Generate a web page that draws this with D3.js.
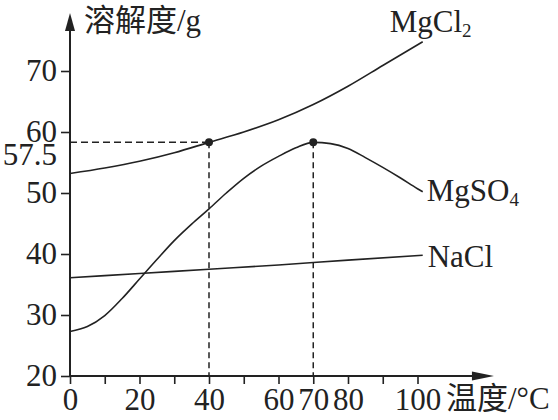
<!DOCTYPE html>
<html>
<head>
<meta charset="utf-8">
<script src="https://cdn.jsdelivr.net/npm/d3@7"></script>
<style>
  html, body { margin: 0; padding: 0; background: #fff; }
  svg { display: block; }
  text { font-family: "Liberation Serif", "Times New Roman", "Noto Sans CJK SC", serif; fill: #222; }
</style>
</head>
<body>
<svg id="chart" width="558" height="420"></svg>
<script>
// ---- data ----
const mgcl2Temps  = [0, 10, 20, 30, 40, 50, 60, 70, 80, 90, 101.5];
const mgcl2Values = [53.2, 54.1, 55.2, 56.6, 58.3, 60.0, 62.0, 64.5, 67.5, 70.9, 74.8];

const mgso4Temps  = [0, 5, 10, 15, 20, 25, 30, 35, 40, 45, 50, 55, 60, 65, 70, 75, 80, 85, 90, 95, 100, 101.5];
const mgso4Values = [27.3, 28.1, 29.9, 32.7, 35.9, 39.1, 42.2, 44.9, 47.4, 50.0, 52.4, 54.4, 56.0, 57.4, 58.3, 58.1, 57.3, 55.8, 54.2, 52.5, 50.7, 50.2];

const naclTemps   = [0, 20, 40, 60, 80, 101.5];
const naclValues  = [36.1, 36.8, 37.5, 38.2, 39.0, 39.8];

const seriesNames = ["MgCl", "MgSO", "NaCl"];
const seriesSubs  = ["2", "4", ""];

const xTicks      = [0, 10, 20, 30, 40, 50, 60, 70, 80, 90, 100];
const xTickLabels = [0, 20, 40, 60, 70, 80, 100];
const yTicks      = [20, 30, 40, 50, 60, 70];
const markTemps   = [40, 70];          // highlighted points
const markValue   = 58.3;              // level of the dashed guide (as drawn)
const markLabel   = "57.5";            // its printed label

const yTitle = "溶解度/g";
const xTitle = "温度/°C";

// ---- layout ----
const svg = d3.select("#chart");
const x = d3.scaleLinear().domain([0, 100]).range([70, 417.5]);
const y = d3.scaleLinear().domain([20, 70]).range([376, 71]);
const xAxisEnd = 122;   // temperature where the x arrow tip sits
const yAxisEnd = 79.5;  // value where the y arrow tip sits
const ink = "#222";

// dashed guides
const g = svg.append("g");
g.append("line")
  .attr("x1", x(0)).attr("x2", x(markTemps[0]))
  .attr("y1", y(markValue)).attr("y2", y(markValue))
  .attr("stroke", ink).attr("stroke-width", 1.5).attr("stroke-dasharray", "7,4");
g.selectAll("line.v").data(markTemps).join("line")
  .attr("class", "v")
  .attr("x1", d => x(d)).attr("x2", d => x(d))
  .attr("y1", y(markValue)).attr("y2", y(20))
  .attr("stroke", ink).attr("stroke-width", 1.5).attr("stroke-dasharray", "6,4");

// axes
const xAxis = d3.axisBottom(x).tickValues(xTicks).tickSize(8).tickSizeOuter(0).tickPadding(4)
  .tickFormat(d => xTickLabels.includes(d) ? String(d) : "");
const xg = svg.append("g").attr("transform", `translate(0,${y(20)})`).call(xAxis);
xg.select(".domain").remove();
xg.selectAll(".tick line").attr("stroke", ink).attr("stroke-width", 1.6);
xg.selectAll(".tick text").attr("font-size", 31).attr("fill", ink)
  .style("font-family", '"Liberation Serif", serif');

const yAxis = d3.axisLeft(y).tickValues(yTicks).tickSize(9).tickSizeOuter(0).tickPadding(4)
  .tickFormat(d => String(d));
const yg = svg.append("g").attr("transform", `translate(${x(0)},0)`).call(yAxis);
yg.select(".domain").remove();
yg.selectAll(".tick line").attr("stroke", ink).attr("stroke-width", 1.6);
yg.selectAll(".tick text").attr("font-size", 31).attr("fill", ink)
  .style("font-family", '"Liberation Serif", serif');

// axis lines with arrows
svg.append("line").attr("x1", x(0)).attr("x2", x(xAxisEnd) - 10)
  .attr("y1", y(20)).attr("y2", y(20)).attr("stroke", ink).attr("stroke-width", 2);
svg.append("line").attr("x1", x(0)).attr("x2", x(0))
  .attr("y1", y(20)).attr("y2", y(yAxisEnd) + 10).attr("stroke", ink).attr("stroke-width", 2);
const xt = x(xAxisEnd), yt = y(20);
svg.append("path").attr("d", `M${xt},${yt} L${xt - 22},${yt - 4.5} L${xt - 22},${yt + 4.5} Z`).attr("fill", ink);
const ax = x(0), ay = y(yAxisEnd);
svg.append("path").attr("d", `M${ax},${ay} L${ax - 5},${ay + 18} L${ax + 5},${ay + 18} Z`).attr("fill", ink);

// "57.5" label
svg.append("text").attr("x", x(0) - 13).attr("y", y(markValue) + 13)
  .attr("dy", "0.32em").attr("text-anchor", "end").attr("font-size", 31).text(markLabel);

// curves
const series = [
  {t: mgcl2Temps, v: mgcl2Values},
  {t: mgso4Temps, v: mgso4Values},
  {t: naclTemps,  v: naclValues}
];
const line = d3.line().x(d => x(d[0])).y(d => y(d[1])).curve(d3.curveMonotoneX);
svg.selectAll("path.curve").data(series).join("path")
  .attr("class", "curve")
  .attr("d", s => line(s.t.map((t, i) => [t, s.v[i]])))
  .attr("fill", "none").attr("stroke", ink).attr("stroke-width", 1.6);

// highlighted points
svg.selectAll("circle.mk").data(markTemps).join("circle")
  .attr("class", "mk").attr("cx", d => x(d)).attr("cy", y(markValue)).attr("r", 4).attr("fill", ink);

// series labels
const labelOffsets = [[-33, -10], [4, 9], [5, 12]];
series.forEach((s, i) => {
  const n = s.t.length - 1;
  const tx = svg.append("text")
    .attr("x", x(s.t[n]) + labelOffsets[i][0])
    .attr("y", y(s.v[n]) + labelOffsets[i][1])
    .attr("font-size", 31).text(seriesNames[i]);
  if (seriesSubs[i]) tx.append("tspan").attr("font-size", 19).attr("dy", 5).text(seriesSubs[i]);
});

// axis titles
svg.append("text").attr("x", 84).attr("y", 31).attr("font-size", 31).text(yTitle);
svg.append("text").attr("x", 446).attr("y", 409).attr("font-size", 31).text(xTitle);
</script>
</body>
</html>
